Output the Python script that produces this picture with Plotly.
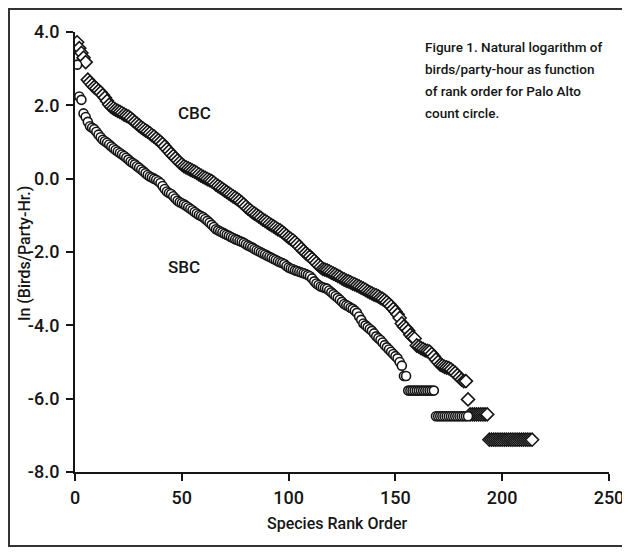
import plotly.graph_objects as go

# ---------------- data ----------------
cbc_values = [
    3.72, 3.56, 3.43, 3.30, 3.18,
    2.70, 2.63, 2.56, 2.50, 2.46,
    2.40, 2.35, 2.28, 2.21, 2.12,
    2.02, 1.96, 1.92, 1.88, 1.85,
    1.82, 1.79, 1.75, 1.72, 1.69,
    1.65, 1.60, 1.55, 1.50, 1.45,
    1.40, 1.36, 1.32, 1.28, 1.24,
    1.19, 1.15, 1.10, 1.05, 1.00,
    0.95, 0.88, 0.81, 0.75, 0.68,
    0.62, 0.56, 0.50, 0.44, 0.39,
    0.34, 0.31, 0.28, 0.25, 0.22,
    0.19, 0.16, 0.12, 0.08, 0.05,
    0.02, -0.01, -0.04, -0.07, -0.11,
    -0.16, -0.20, -0.24, -0.28, -0.32,
    -0.36, -0.40, -0.44, -0.48, -0.52,
    -0.56, -0.60, -0.65, -0.70, -0.76,
    -0.82, -0.86, -0.91, -0.95, -0.99,
    -1.03, -1.07, -1.12, -1.15, -1.19,
    -1.23, -1.27, -1.30, -1.34, -1.38,
    -1.41, -1.45, -1.50, -1.55, -1.60,
    -1.64, -1.68, -1.73, -1.79, -1.85,
    -1.91, -1.97, -2.03, -2.08, -2.12,
    -2.18, -2.24, -2.30, -2.36, -2.41,
    -2.46, -2.48, -2.50, -2.53, -2.56,
    -2.59, -2.62, -2.65, -2.68, -2.72,
    -2.75, -2.78, -2.80, -2.83, -2.86,
    -2.88, -2.91, -2.94, -2.97, -3.00,
    -3.03, -3.07, -3.10, -3.13, -3.16,
    -3.18, -3.21, -3.25, -3.28, -3.32,
    -3.37, -3.42, -3.48, -3.55, -3.62,
    -3.70, -3.80, -3.95, -4.03, -4.08,
    -4.15, -4.26, -4.32, -4.36, -4.55,
    -4.58, -4.62, -4.65, -4.68, -4.70,
    -4.72, -4.78, -4.85, -4.93, -5.00,
    -5.07, -5.10, -5.13, -5.15, -5.17,
    -5.20, -5.25, -5.30, -5.36, -5.42,
    -5.48, -5.52, -5.52,
    -6.02,
    -6.43, -6.43, -6.43, -6.43, -6.43, -6.43, -6.43, -6.43, -6.43,
    -7.12, -7.12, -7.12, -7.12, -7.12, -7.12, -7.12, -7.12, -7.12, -7.12,
    -7.12, -7.12, -7.12, -7.12, -7.12, -7.12, -7.12, -7.12, -7.12, -7.12,
    -7.12,
]
cbc_ranks = list(range(1, len(cbc_values) + 1))

sbc_values = [
    3.11, 2.24, 2.15, 1.78, 1.68,
    1.55, 1.43, 1.39, 1.35, 1.28,
    1.20, 1.13, 1.06, 1.02, 0.98,
    0.93, 0.88, 0.83, 0.78, 0.74,
    0.70, 0.66, 0.62, 0.57, 0.52,
    0.47, 0.43, 0.39, 0.34, 0.30,
    0.25, 0.20, 0.15, 0.10, 0.06,
    0.03, 0.00, -0.03, -0.07, -0.12,
    -0.20, -0.28, -0.35, -0.39, -0.42,
    -0.48, -0.54, -0.60, -0.64, -0.67,
    -0.70, -0.74, -0.78, -0.82, -0.86,
    -0.91, -0.95, -0.99, -1.02, -1.05,
    -1.10, -1.15, -1.20, -1.26, -1.32,
    -1.38, -1.41, -1.44, -1.47, -1.50,
    -1.53, -1.56, -1.59, -1.62, -1.65,
    -1.67, -1.70, -1.72, -1.75, -1.79,
    -1.82, -1.85, -1.88, -1.92, -1.95,
    -1.98, -2.01, -2.04, -2.07, -2.10,
    -2.13, -2.16, -2.19, -2.22, -2.25,
    -2.28, -2.30, -2.33, -2.38, -2.42,
    -2.45, -2.47, -2.50, -2.52, -2.54,
    -2.56, -2.58, -2.60, -2.63, -2.66,
    -2.72, -2.80, -2.86, -2.90, -2.94,
    -2.96, -2.98, -3.00, -3.05, -3.10,
    -3.15, -3.20, -3.25, -3.30, -3.36,
    -3.42, -3.45, -3.48, -3.52, -3.55,
    -3.60, -3.66, -3.76, -3.85, -3.95,
    -4.00, -4.05, -4.10, -4.15, -4.22,
    -4.30, -4.35, -4.40, -4.47, -4.54,
    -4.60, -4.66, -4.72, -4.78, -4.84,
    -4.90, -5.00, -5.10, -5.38, -5.38,
    -5.78, -5.78, -5.78, -5.78, -5.78, -5.78, -5.78, -5.78, -5.78, -5.78,
    -5.78, -5.78, -5.78,
    -6.48, -6.48, -6.48, -6.48, -6.48, -6.48, -6.48, -6.48, -6.48, -6.48,
    -6.48, -6.48, -6.48, -6.48, -6.48, -6.48,
]
sbc_ranks = list(range(1, len(sbc_values) + 1))

x_tick_values = [0, 50, 100, 150, 200, 250]
x_tick_labels = ["0", "50", "100", "150", "200", "250"]
y_tick_values = [-8, -6, -4, -2, 0, 2, 4]
y_tick_labels = ["-8.0", "-6.0", "-4.0", "-2.0", "0.0", "2.0", "4.0"]

caption_lines = [
    "Figure 1. Natural logarithm of",
    "birds/party-hour as function",
    "of rank order for Palo Alto",
    "count circle.",
]

FONT = "Roboto, Liberation Sans, sans-serif"
INK = "#151515"

fig = go.Figure()
fig.add_trace(go.Scatter(
    x=cbc_ranks, y=cbc_values, mode="markers", name="CBC",
    marker=dict(symbol="diamond", size=10, color="white",
                line=dict(color=INK, width=1.6)),
))
fig.add_trace(go.Scatter(
    x=sbc_ranks, y=sbc_values, mode="markers", name="SBC",
    marker=dict(symbol="circle", size=9, color="white",
                line=dict(color=INK, width=1.6)),
))

annotations = [
    dict(text="CBC", x=56, y=1.8, xref="x", yref="y", showarrow=False,
         font=dict(size=17, family=FONT, weight=500)),
    dict(text="SBC", x=51, y=-2.4, xref="x", yref="y", showarrow=False,
         font=dict(size=17, family=FONT, weight=500)),
    dict(text="Species Rank Order", x=0.4925, y=-0.118, xref="paper",
         yref="paper", xanchor="center", yanchor="middle", showarrow=False,
         font=dict(size=16, family=FONT, weight=500)),
    dict(text="ln (Birds/Party-Hr.)", x=-0.094, y=0.498, xref="paper",
         yref="paper", xanchor="center", yanchor="middle", textangle=-90,
         showarrow=False, font=dict(size=16, family=FONT, weight=500)),
]
caption_y = [0.966, 0.916, 0.866, 0.816]
for line, yy in zip(caption_lines, caption_y):
    annotations.append(dict(text=line, x=0.651, y=yy, xref="paper", yref="paper",
                            xanchor="left", yanchor="middle", showarrow=False,
                            font=dict(size=13.5, family=FONT, weight=500)))

fig.update_layout(
    width=630, height=552,
    margin=dict(l=67, r=29, t=24, b=88),
    paper_bgcolor="white", plot_bgcolor="white",
    showlegend=False,
    font=dict(family=FONT, color=INK, size=16, weight=500),
    xaxis=dict(range=[0, 250], tickvals=x_tick_values, ticktext=x_tick_labels,
               showgrid=False, zeroline=False, showline=True, linecolor=INK,
               linewidth=2, ticks="outside", ticklen=7, tickwidth=2, tickcolor=INK,
               tickfont=dict(size=18, family=FONT, weight=500), ticklabelstandoff=1),
    yaxis=dict(range=[-8, 4], tickvals=y_tick_values, ticktext=y_tick_labels,
               showgrid=False, zeroline=False, showline=True, linecolor=INK,
               linewidth=2, ticks="outside", ticklen=7, tickwidth=2, tickcolor=INK,
               tickfont=dict(size=18, family=FONT, weight=500), ticklabelstandoff=3),
    shapes=[dict(type="rect", xref="paper", yref="paper",
                 x0=-0.1236, x1=1.0356, y0=-0.168, y1=1.0523,
                 line=dict(color="#333333", width=2), layer="below")],
    annotations=annotations,
)

fig.write_html("out.html")
